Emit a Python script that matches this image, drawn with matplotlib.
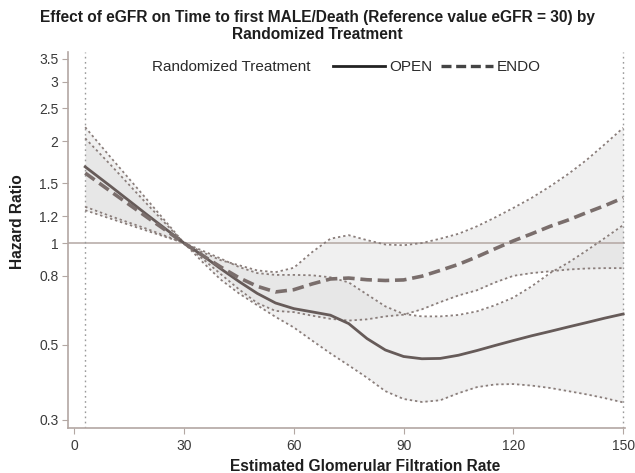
import matplotlib
matplotlib.use("Agg")
import matplotlib.pyplot as plt
from matplotlib.lines import Line2D
from matplotlib.ticker import FixedLocator, FixedFormatter, NullLocator

plt.rcParams['font.family'] = ['Liberation Sans', 'DejaVu Sans']

# ---- data ----
egfr = [3, 10, 20, 30, 35, 40, 45, 50, 55, 60, 65, 70, 75, 80, 85, 90, 95, 100,
        105, 110, 115, 120, 125, 130, 135, 140, 145, 150]

open_hr = [1.68, 1.47, 1.21, 1.0, 0.92, 0.84, 0.77, 0.71, 0.665, 0.64, 0.626, 0.612, 0.578, 0.522,
           0.483, 0.462, 0.455, 0.456, 0.466, 0.481, 0.498, 0.515, 0.532, 0.548, 0.565, 0.582, 0.60, 0.617]
open_lo = [1.28, 1.20, 1.10, 1.0, 0.88, 0.78, 0.71, 0.655, 0.605, 0.563, 0.515, 0.472, 0.435, 0.40,
           0.365, 0.346, 0.339, 0.343, 0.36, 0.375, 0.382, 0.383, 0.379, 0.373, 0.365, 0.357, 0.348, 0.338]
open_hi = [2.20, 1.79, 1.34, 1.0, 0.95, 0.90, 0.85, 0.815, 0.805, 0.805, 0.803, 0.792, 0.765, 0.705,
           0.65, 0.617, 0.607, 0.607, 0.613, 0.628, 0.655, 0.69, 0.745, 0.815, 0.875, 0.95, 1.035, 1.13]

endo_hr = [1.61, 1.42, 1.19, 1.0, 0.92, 0.85, 0.79, 0.745, 0.717, 0.728, 0.757, 0.783, 0.788, 0.779,
           0.775, 0.778, 0.798, 0.83, 0.865, 0.91, 0.962, 1.015, 1.065, 1.12, 1.17, 1.23, 1.29, 1.36]
endo_lo = [1.25, 1.18, 1.086, 1.0, 0.90, 0.81, 0.73, 0.665, 0.63, 0.625, 0.61, 0.597, 0.59, 0.595,
           0.607, 0.614, 0.637, 0.669, 0.70, 0.725, 0.765, 0.80, 0.815, 0.825, 0.835, 0.841, 0.843, 0.843]
endo_hi = [2.04, 1.70, 1.30, 1.0, 0.94, 0.89, 0.86, 0.83, 0.82, 0.845, 0.94, 1.03, 1.055, 1.02,
           0.99, 0.985, 1.0, 1.03, 1.065, 1.12, 1.19, 1.27, 1.36, 1.47, 1.60, 1.76, 1.96, 2.19]

data_range = [3, 150]
x_ticks = [0, 30, 60, 90, 120, 150]
y_ticks = [0.3, 0.5, 0.8, 1, 1.2, 1.5, 2, 2.5, 3, 3.5]
y_tick_labels = ['0.3', '0.5', '0.8', '1', '1.2', '1.5', '2', '2.5', '3', '3.5']

# ---- figure ----
W, H = 635, 473
fig = plt.figure(figsize=(W / 100, H / 100), dpi=100)
ax = fig.add_axes([68 / W, 1 - 428 / H, 557 / W, 376 / H])

spine_c = '#b3a7a3'
ci_c = '#8a7e7b'

ax.fill_between(egfr, open_lo, open_hi, color='#dcdcdc', alpha=0.42, lw=0)
ax.fill_between(egfr, endo_lo, endo_hi, color='#dcdcdc', alpha=0.42, lw=0)

ax.axhline(1, color=spine_c, lw=1.1, zorder=1)
for xv in data_range:
    ax.axvline(xv, color='#9a9a9a', lw=1.0, ls=(0, (1.2, 2.5)), zorder=1)

dot = (0, (1.3, 1.6))
for s in (open_lo, open_hi, endo_lo, endo_hi):
    ax.plot(egfr, s, color=ci_c, lw=1.3, ls=dot, zorder=3)

ax.plot(egfr, open_hr, color='#665b59', lw=2.0, zorder=4, label='OPEN')
ax.plot(egfr, endo_hr, color='#7a6e6c', lw=2.6, ls=(0, (3.2, 1.6)), zorder=4, label='ENDO')

ax.set_yscale('log')
ax.set_xlim(-1.7, 150.5)
ax.set_ylim(0.284, 3.67)
ax.yaxis.set_major_locator(FixedLocator(y_ticks))
ax.yaxis.set_major_formatter(FixedFormatter(y_tick_labels))
ax.yaxis.set_minor_locator(NullLocator())
ax.set_xticks(x_ticks)
ax.set_xticklabels([str(v) for v in x_ticks])

for sp in ('top', 'right'):
    ax.spines[sp].set_visible(False)
for sp in ('left', 'bottom'):
    ax.spines[sp].set_color(spine_c)
    ax.spines[sp].set_linewidth(1.2)
ax.tick_params(axis='both', colors=spine_c, labelcolor='#3a3a3a', labelsize=10,
               length=4, width=0.8, direction='out')
ax.tick_params(axis='x', pad=4)
ax.tick_params(axis='y', pad=3)

# titles / labels
fig.text(0.5, 1 - 26 / H,
         'Effect of eGFR on Time to first MALE/Death (Reference value eGFR = 30) by\nRandomized Treatment',
         ha='center', va='center', fontsize=11.2, fontweight='bold', color='#1e1e1e', linespacing=1.2)
fig.text(365 / W, 1 - 466 / H, 'Estimated Glomerular Filtration Rate', ha='center', va='center',
         fontsize=11.2, fontweight='bold', color='#1e1e1e')
fig.text(18 / W, 1 - 222 / H, 'Hazard Ratio', ha='center', va='center', rotation=90,
         fontsize=11.2, fontweight='bold', color='#1e1e1e')

# legend
fig.text(152 / W, 1 - 67 / H, 'Randomized Treatment', ha='left', va='center',
         fontsize=11, color='#2a2a2a')
handles = [Line2D([], [], color='#222222', lw=2.0),
           Line2D([], [], color='#444444', lw=2.4, ls=(0, (3.0, 1.4)))]
fig.legend(handles, ['OPEN', 'ENDO'], loc='center left',
           bbox_to_anchor=(333 / W, 1 - 67 / H), ncol=2, frameon=False,
           fontsize=11, handlelength=3.4, handletextpad=0.25, columnspacing=0.6,
           borderpad=0, borderaxespad=0, labelcolor='#2a2a2a')

fig.savefig('out.png', dpi=100, facecolor='white')
